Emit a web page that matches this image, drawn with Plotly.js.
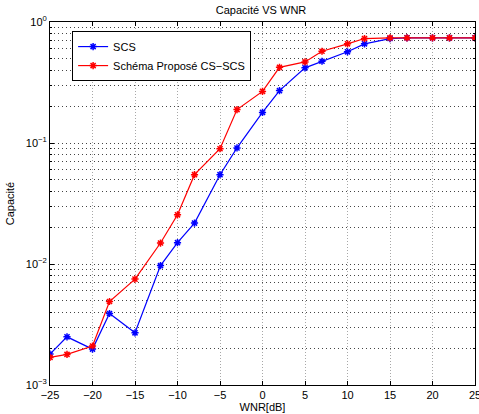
<!DOCTYPE html>
<html>
<head>
<meta charset="utf-8">
<script src="https://cdn.plot.ly/plotly-3.0.1.min.js"></script>
<style>html,body{margin:0;padding:0;background:#fff;}#chart{width:479px;height:414px;}</style>
</head>
<body>
<div id="chart"></div>
<script>
const wnr = [-25, -23, -20, -18, -15, -12, -10, -8, -5, -3, 0, 2, 5, 7, 10, 12, 15, 17, 20, 22, 25];
const scs = [0.0018, 0.0025, 0.00198, 0.0039, 0.0027, 0.0097, 0.0150, 0.0218, 0.0547, 0.091, 0.179, 0.271, 0.418, 0.474, 0.567, 0.66, 0.73, 0.74, 0.74, 0.74, 0.74];
const cs_scs = [0.00169, 0.00179, 0.0021, 0.0049, 0.0075, 0.0149, 0.0255, 0.0547, 0.0897, 0.189, 0.267, 0.422, 0.468, 0.573, 0.66, 0.73, 0.74, 0.74, 0.74, 0.74, 0.74];
const seriesNames = ["SCS", "Schéma Proposé CS\u2212SCS"];
const xTicks = [-25, -20, -15, -10, -5, 0, 5, 10, 15, 20, 25];
const xTickText = ["\u221225", "\u221220", "\u221215", "\u221210", "\u22125", "0", "5", "10", "15", "20", "25"];
const yTicks = [0.001, 0.01, 0.1, 1];
const yTickText = ["10<sup>\u22123</sup>", "10<sup>\u22122</sup>", "10<sup>\u22121</sup>", "10<sup>0</sup>"];

const yMinor = [];
for (let e = -3; e < 0; e++) for (let m = 2; m <= 9; m++) yMinor.push(m * Math.pow(10, e));

const font = {family: "Liberation Sans, Arial, Helvetica, sans-serif", size: 11, color: "#000"};

const traces = [
  {x: wnr, y: scs, name: seriesNames[0], mode: "lines+markers", line: {color: "#0000ff", width: 1.2},
   marker: {symbol: "asterisk-open", size: 6, color: "#0000ff", line: {color: "#0000ff", width: 1.5}}},
  {x: wnr, y: cs_scs, name: seriesNames[1], mode: "lines+markers", line: {color: "#ff0000", width: 1.2},
   marker: {symbol: "asterisk-open", size: 6, color: "#ff0000", line: {color: "#ff0000", width: 1.5}}}
];

const layout = {
  width: 479, height: 414,
  margin: {l: 50, r: 4, t: 22, b: 29},
  paper_bgcolor: "#fff", plot_bgcolor: "#fff",
  font: font,
  showlegend: true,
  title: {text: "Capacité VS WNR", font: {family: font.family, size: 11, color: "#000"}, x: 0.545, xanchor: "center", y: 0.985, yanchor: "top"},
  xaxis: {
    range: [-25, 25], tickvals: xTicks, ticktext: xTickText,
    showline: true, linecolor: "#000", linewidth: 1, mirror: "ticks",
    ticks: "inside", ticklen: 4, tickcolor: "#000",
    showgrid: true, gridcolor: "#a8a8a8", griddash: "1px,2px", gridwidth: 1,
    zeroline: false, ticklabeloverflow: "allow",
    title: {text: "WNR[dB]", font: font, standoff: 2},
    tickfont: font
  },
  yaxis: {
    type: "log", range: [-3, 0], tickvals: yTicks, ticktext: yTickText,
    showline: true, linecolor: "#000", linewidth: 1, mirror: "ticks",
    ticks: "inside", ticklen: 4, tickcolor: "#000",
    showgrid: true, gridcolor: "#444", griddash: "1px,3px", gridwidth: 1,
    minor: {tickvals: yMinor, ticks: "inside", ticklen: 2, tickcolor: "#000", showgrid: true, gridcolor: "#444", griddash: "1px,3px", gridwidth: 1},
    zeroline: false, ticklabeloverflow: "allow",
    title: {text: "Capacité", font: font, standoff: 8},
    tickfont: font
  },
  legend: {
    x: 0.052, y: 0.975, xanchor: "left", yanchor: "top",
    bgcolor: "#fff", bordercolor: "#000", borderwidth: 1,
    font: font, tracegroupgap: 0, itemwidth: 30
  }
};

Plotly.newPlot("chart", traces, layout, {displayModeBar: false, staticPlot: true});
</script>
</body>
</html>
